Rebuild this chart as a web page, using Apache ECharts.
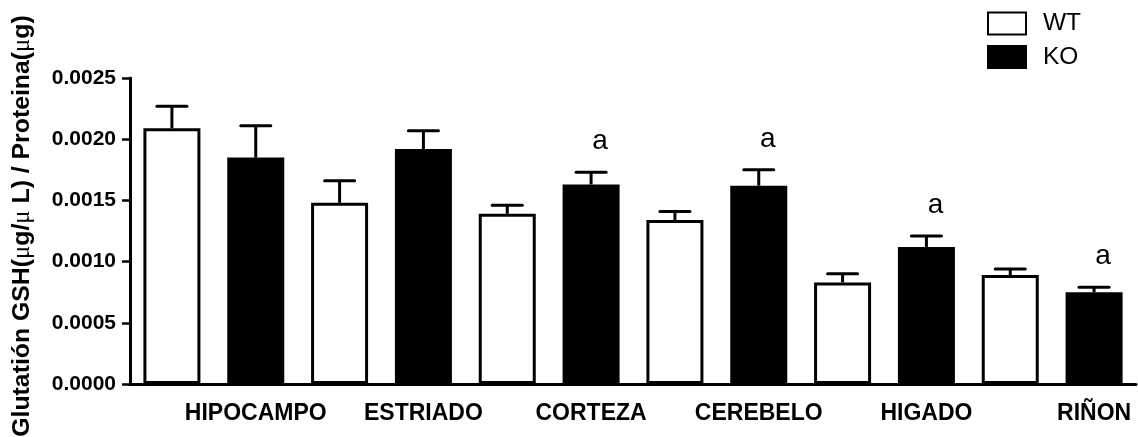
<!DOCTYPE html>
<html>
<head>
<meta charset="utf-8">
<script src="https://cdn.jsdelivr.net/npm/echarts@6/dist/echarts.min.js"></script>
<style>
  html, body { margin: 0; padding: 0; background: #fff; }
  #chart { width: 1138px; height: 437px; }
</style>
</head>
<body>
<div id="chart"></div>
<script>
// Brain / tissue regions, one WT and one KO bar each
const regions = ['HIPOCAMPO', 'ESTRIADO', 'CORTEZA', 'CEREBELO', 'HIGADO', 'RIÑON'];
const groups = ['WT', 'KO'];

// Glutathione GSH (µg/µL) per protein (µg): mean and SEM
const wtMean = [0.00209, 0.00148, 0.00139, 0.00134, 0.00083, 0.00089];
const wtSem  = [0.00018, 0.00018, 0.00007, 0.00007, 0.00007, 0.00005];
const koMean = [0.00185, 0.00192, 0.00163, 0.00162, 0.00112, 0.00075];
const koSem  = [0.00026, 0.00015, 0.00010, 0.00013, 0.00009, 0.00004];
// significance letters above the KO bars
const koMark = ['', '', 'a', 'a', 'a', 'a'];

const yTicks = ['0.0000', '0.0005', '0.0010', '0.0015', '0.0020', '0.0025'];

const FONT = "'Liberation Sans', Arial, sans-serif";

// every region takes two slots on the axis: WT then KO
const slots = [];
regions.forEach(r => { slots.push(r + ' WT'); slots.push(r + ' KO'); });

const wtBars = slots.map((s, i) => (i % 2 === 0 ? wtMean[i / 2] : '-'));
const koBars = slots.map((s, i) => (i % 2 === 1 ? koMean[(i - 1) / 2] : '-'));

const errData = [];
regions.forEach((r, k) => {
  errData.push([2 * k, wtMean[k], wtSem[k], '']);
  errData.push([2 * k + 1, koMean[k], koSem[k], koMark[k]]);
});

function renderErr(params, api) {
  const idx = api.value(0);
  const mean = api.value(1);
  const sem = api.value(2);
  const mark = errData[params.dataIndex][3];
  const base = api.coord([idx, mean]);
  const top = api.coord([idx, mean + sem]);
  const half = 15;
  const children = [
    { type: 'line', shape: { x1: base[0], y1: base[1], x2: top[0], y2: top[1] },
      style: { stroke: '#000', lineWidth: 3 } },
    { type: 'line', shape: { x1: top[0] - half, y1: top[1], x2: top[0] + half, y2: top[1] },
      style: { stroke: '#000', lineWidth: 3, lineCap: 'round' } }
  ];
  if (mark) {
    children.push({
      type: 'text',
      style: {
        x: top[0] + 9, y: top[1] - 31, text: mark,
        font: '28px ' + FONT, fill: '#000', align: 'center', verticalAlign: 'middle'
      }
    });
  }
  return { type: 'group', children: children };
}

const yName = '{b|Glutatión GSH(}{m|μ}{b|g/}{m|μ}{b| L) / Proteina(}{m|μ}{b|g)}';

const chart = echarts.init(document.getElementById('chart'), null, { renderer: 'canvas' });
chart.setOption({
  animation: false,
  backgroundColor: '#fff',
  textStyle: { fontFamily: FONT, color: '#000' },
  grid: { left: 130, right: 2, top: 78, bottom: 53, containLabel: false, outerBoundsMode: 'none' },
  legend: {
    data: groups,
    orient: 'vertical',
    left: 982,
    top: 6,
    itemWidth: 38,
    itemHeight: 22,
    itemGap: 8.5,
    icon: 'rect',
    textStyle: { fontFamily: FONT, fontSize: 24.5, color: '#000', lineHeight: 24, padding: [0, 0, 0, 12] }
  },
  xAxis: {
    type: 'category',
    data: slots,
    boundaryGap: true,
    axisLine: { lineStyle: { color: '#000', width: 3 } },
    axisTick: { alignWithLabel: true, interval: 0, length: 9, lineStyle: { color: '#000', width: 2.5 } },
    axisLabel: {
      interval: 0,
      margin: 18,
      fontFamily: FONT,
      fontSize: 23,
      fontWeight: 'bold',
      color: '#000',
      formatter: (v, i) => (i % 2 === 1 ? regions[(i - 1) / 2] : '')
    },
    splitLine: { show: false }
  },
  yAxis: {
    type: 'value',
    min: 0,
    max: 0.0025,
    interval: 0.0005,
    name: yName,
    nameLocation: 'middle',
    nameGap: 95,
    nameRotate: 90,
    nameTextStyle: {
      padding: [0, 0, 0, 10],
      rich: {
        b: { fontFamily: FONT, fontSize: 24.8, fontWeight: 'bold', color: '#000' },
        m: { fontFamily: "'Liberation Serif', serif", fontSize: 24.8, color: '#000' }
      }
    },
    axisLine: { show: true, lineStyle: { color: '#000', width: 3 } },
    axisTick: { show: true, length: 8, lineStyle: { color: '#000', width: 2.5 } },
    axisLabel: {
      margin: 14,
      fontFamily: FONT,
      fontSize: 21,
      fontWeight: 'bold',
      color: '#000',
      formatter: v => yTicks[Math.round(v / 0.0005)]
    },
    splitLine: { show: false }
  },
  series: [
    {
      name: 'WT',
      type: 'bar',
      data: wtBars,
      barWidth: 57,
      barGap: '-100%',
      itemStyle: { color: '#fff', borderColor: '#000', borderWidth: 3 }
    },
    {
      name: 'KO',
      type: 'bar',
      data: koBars,
      barWidth: 57,
      barGap: '-100%',
      itemStyle: { color: '#000', borderColor: '#000', borderWidth: 3 }
    },
    {
      type: 'custom',
      renderItem: renderErr,
      data: errData,
      encode: { x: 0, y: 1 },
      z: 5,
      silent: true
    }
  ]
});
</script>
</body>
</html>
